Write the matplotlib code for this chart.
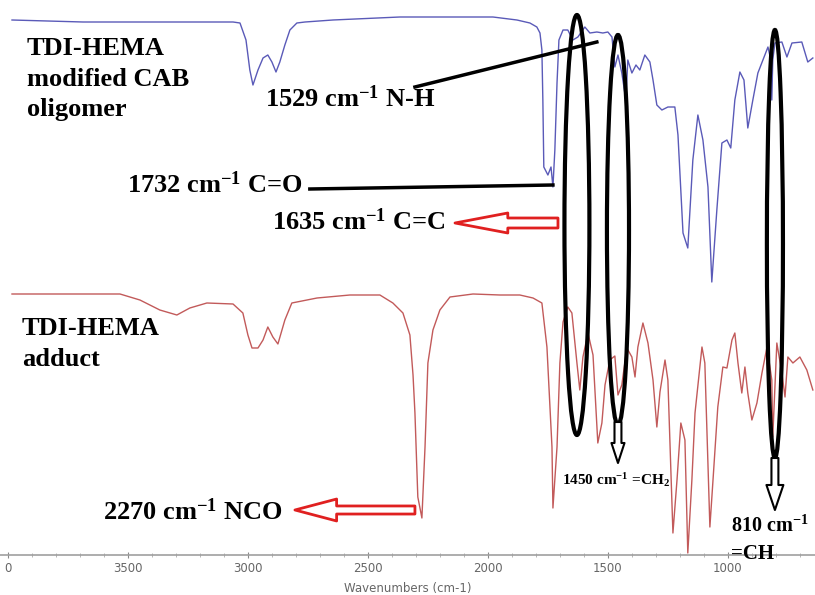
import matplotlib
matplotlib.use("Agg")
from matplotlib import pyplot as plt
from matplotlib.patches import Ellipse
from matplotlib.ticker import MultipleLocator

plt.rcParams['mathtext.fontset'] = 'custom'
plt.rcParams['mathtext.rm'] = 'Liberation Serif:bold'
plt.rcParams['mathtext.it'] = 'Liberation Serif:bold'
plt.rcParams['mathtext.bf'] = 'Liberation Serif:bold'

# TDI-HEMA modified CAB oligomer (upper trace, offset units)
blue_wn = [3983, 3687, 3200, 3062, 3033, 3008, 2992, 2979, 2958, 2937,
           2917, 2900, 2883, 2867, 2846, 2825, 2796, 2762, 2646, 2367,
           2229, 1979, 1879, 1825, 1796, 1783, 1775, 1771, 1767, 1750,
           1737, 1729, 1721, 1712, 1704, 1687, 1667, 1646, 1625, 1596,
           1575, 1546, 1521, 1500, 1483, 1471, 1458, 1442, 1425, 1417,
           1400, 1383, 1367, 1346, 1325, 1312, 1296, 1275, 1250, 1221,
           1208, 1187, 1167, 1146, 1125, 1104, 1083, 1067, 1046, 1025,
           1004, 988, 971, 950, 933, 917, 896, 875, 854, 833,
           821, 817, 813, 804, 775, 754, 733, 692, 667, 646]
blue_t = [535, 533, 533, 533, 532, 515, 485, 470, 485, 497,
          500, 493, 483, 493, 510, 525, 532, 533, 535, 538,
          538, 538, 535, 532, 528, 522, 505, 455, 388, 380,
          388, 368, 405, 472, 515, 525, 525, 515, 518, 528,
          522, 523, 522, 523, 518, 488, 500, 482, 455, 495,
          482, 490, 485, 500, 493, 475, 450, 445, 448, 448,
          420, 322, 307, 395, 440, 415, 368, 273, 345, 412,
          415, 407, 455, 483, 475, 427, 455, 482, 495, 508,
          495, 455, 495, 512, 513, 498, 512, 513, 493, 497]

# TDI-HEMA adduct (lower trace)
red_wn = [3983, 3533, 3450, 3367, 3296, 3242, 3171, 3062, 3021, 3000,
          2983, 2958, 2937, 2917, 2896, 2875, 2846, 2817, 2712, 2575,
          2450, 2396, 2354, 2325, 2312, 2304, 2292, 2275, 2262, 2250,
          2229, 2200, 2158, 2062, 1950, 1867, 1812, 1775, 1754, 1733,
          1729, 1712, 1700, 1687, 1667, 1650, 1629, 1617, 1604, 1583,
          1562, 1542, 1525, 1512, 1492, 1471, 1458, 1442, 1421, 1400,
          1387, 1375, 1354, 1333, 1312, 1296, 1283, 1262, 1250, 1229,
          1212, 1196, 1179, 1167, 1150, 1137, 1108, 1096, 1075, 1062,
          1042, 1021, 1004, 983, 971, 958, 942, 929, 917, 900,
          879, 858, 837, 817, 813, 796, 775, 762, 750, 729,
          700, 671, 646]
red_t = [261, 261, 255, 245, 240, 247, 252, 251, 242, 220,
         207, 207, 215, 228, 218, 211, 235, 252, 257, 260,
         260, 252, 242, 220, 180, 142, 58, 37, 108, 192,
         225, 245, 258, 261, 260, 260, 257, 252, 208, 108,
         47, 108, 192, 233, 248, 242, 192, 165, 198, 222,
         200, 112, 132, 170, 195, 199, 160, 170, 207, 198,
         178, 208, 232, 212, 175, 128, 163, 195, 175, 22,
         75, 132, 115, 2, 75, 142, 208, 192, 28, 75,
         148, 188, 187, 215, 222, 192, 162, 188, 162, 135,
         152, 182, 208, 175, 118, 212, 182, 158, 198, 192,
         198, 185, 165]

tick_pos = [4000, 3500, 3000, 2500, 2000, 1500, 1000]
tick_labels = ['0', '3500', '3000', '2500', '2000', '1500', '1000']

fig = plt.figure(figsize=(8.15, 5.95), dpi=100)
ax = fig.add_axes([0, 40 / 595, 1, 555 / 595])

ax.plot(blue_wn, blue_t, color='#5a5ab8', lw=1.0)
ax.plot(red_wn, red_t, color='#c25a5a', lw=1.0)

ax.set_xlim(4033, 637)
ax.set_ylim(0, 555)
for s in ['left', 'right', 'top']:
    ax.spines[s].set_visible(False)
ax.spines['bottom'].set_color('#a0a0a0')
ax.spines['bottom'].set_linewidth(1.2)
ax.set_yticks([])
ax.set_xticks(tick_pos)
ax.set_xticklabels(tick_labels)
ax.xaxis.set_minor_locator(MultipleLocator(100))
ax.tick_params(axis='x', which='major', direction='inout', length=4,
               color='#888888', labelsize=8.5, labelcolor='#666666', pad=3)
ax.tick_params(axis='x', which='minor', direction='inout', length=3,
               color='#aaaaaa')
ax.set_xlabel('Wavenumbers (cm-1)', fontsize=8.5, color='#666666', labelpad=5)

# ellipses around the bands
for wn, yc, w, h in [(1629, 330, 104, 420), (1458, 325, 92, 390), (804, 311, 67, 428)]:
    ax.add_patch(Ellipse((wn, yc), w, h, fill=False, ec='black', lw=3, zorder=4))

# leader lines
ax.plot([2304, 1546], [468, 513], color='black', lw=2.5, zorder=4)
ax.plot([2742, 1729], [366, 370], color='black', lw=2.5, zorder=4)


def hollow(tip, tail, hl, hw, tw, ec, lw):
    ax.annotate('', xy=tip, xytext=tail, zorder=5,
                arrowprops=dict(arrowstyle='simple,head_length=%g,head_width=%g,tail_width=%g' % (hl, hw, tw),
                                mutation_scale=10, fc='white', ec=ec, lw=lw,
                                shrinkA=0, shrinkB=0))


hollow((2137, 332), (1708, 332), 3.8, 1.44, 0.72, '#e02020', 2)
hollow((2804, 45), (2304, 45), 3.0, 1.58, 0.58, '#e02020', 2)
hollow((1458, 92), (1458, 133), 1.44, 0.94, 0.5, 'black', 1.5)
hollow((804, 45), (804, 97), 1.8, 1.22, 0.5, 'black', 1.5)


def put(x, y, s, size=19):
    fig.text(x / 815, 1 - y / 595, s, fontsize=size, family='Liberation Serif',
             weight='bold', va='baseline', ha='left', zorder=6)


put(27, 55, 'TDI-HEMA')
put(27, 86, 'modified CAB')
put(27, 116, 'oligomer')
put(265, 107, r'1529 cm$^{-1}$ N-H')
put(127, 193, r'1732 cm$^{-1}$ C=O')
put(272, 230, r'1635 cm$^{-1}$ C=C')
put(22, 335, 'TDI-HEMA')
put(22, 366, 'adduct')
put(103, 520, r'2270 cm$^{-1}$ NCO')
put(562, 485, r'1450 cm$^{-1}$ =CH$_2$', size=11)
put(731, 532, r'810 cm$^{-1}$', size=14.5)
put(731, 559, '=CH', size=15)

fig.savefig('out.png', dpi=100)
